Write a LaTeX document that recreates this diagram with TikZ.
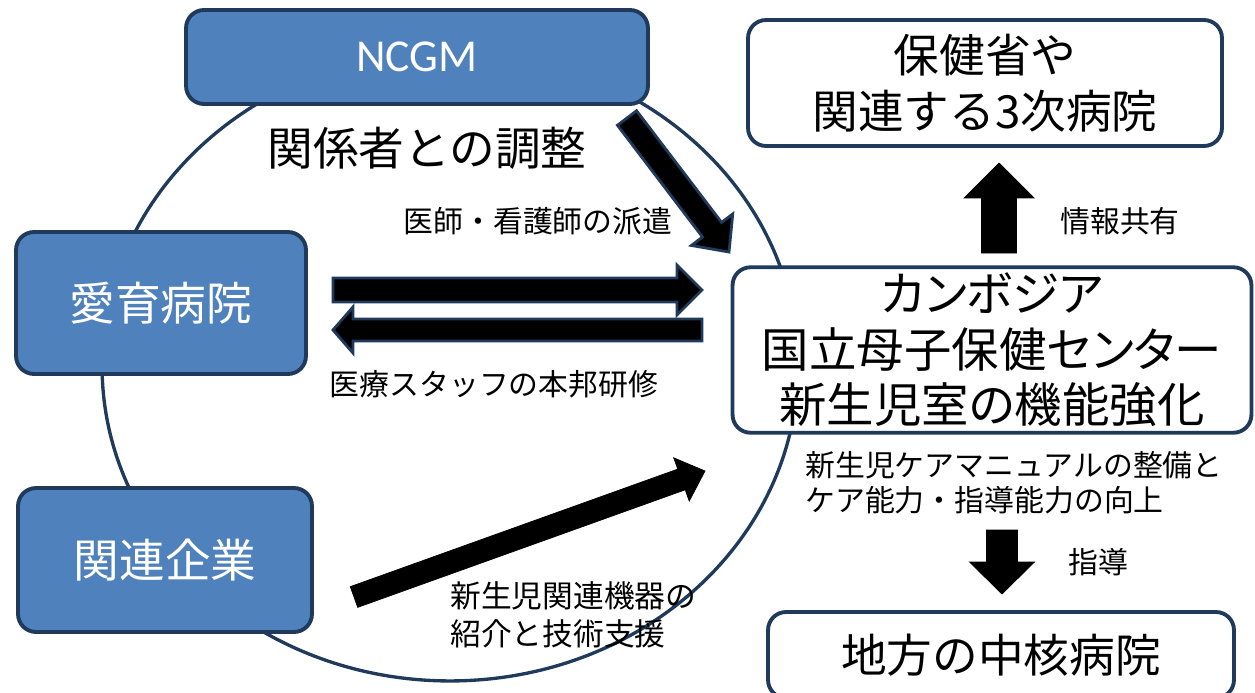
\documentclass[tikz,border=0pt]{standalone}
\usepackage{fontspec}
\setmainfont{Noto Sans CJK JP}
\newfontfamily\latinfont{Carlito}
\usetikzlibrary{calc}
\definecolor{boxblue}{HTML}{4F81BD}
\definecolor{boxline}{HTML}{1F3A5A}
\newcommand{\bigjp}{\fontsize{26}{31.5}\selectfont}
\newcommand{\smalljp}{\fontsize{17}{20}\selectfont}
% block arrow: style, tail, tip, shaft half width, head half width, head length
\newcommand{\blockarrow}[6]{%
  \coordinate (hb) at ($(#3)!#6!(#2)$);
  \draw[#1] ($(#2)!#4!90:(#3)$) -- ($(hb)!#4!90:(#3)$) -- ($(hb)!#5!90:(#3)$) -- (#3)
    -- ($(hb)!#5!-90:(#3)$) -- ($(hb)!#4!-90:(#3)$) -- ($(#2)!#4!-90:(#3)$) -- cycle;}

\begin{document}
\begin{tikzpicture}[
    x=0.02cm, y=-0.02cm,
    bluebox/.style={draw=boxline, line width=2.2pt, fill=boxblue, rounded corners=0.36cm, text=white, font=\bigjp},
    whitebox/.style={draw=boxline, line width=2.2pt, fill=white, rounded corners=0.36cm, align=center, font=\bigjp},
    bigtext/.style={inner sep=0pt, font=\bigjp},
    note/.style={inner sep=0pt, font=\smalljp},
    ring/.style={draw=boxline, line width=1.9pt},
    outlined/.style={fill=black, draw=boxline, line width=1.6pt},
    solid arrow/.style={fill=black}
]
    \useasboundingbox (0,0) rectangle (1255,693);

    % Cycle around the partners
    \draw[ring] (450,366) ellipse [x radius=6.96cm, y radius=6.3cm];

    % Partners in Japan
    \node[bluebox, minimum width=9.24cm, minimum height=1.88cm, font=\latinfont\fontsize{26}{31}\selectfont] (ncgm) at (417,57) {NCGM};
    \node[bluebox, minimum width=5.8cm, minimum height=2.84cm] (aiiku) at (161,303) {愛育病院};
    \node[bluebox, minimum width=5.88cm, minimum height=2.88cm] (kigyo) at (165,560) {関連企業};

    % Cambodia side
    \node[whitebox, minimum width=9.48cm, minimum height=2.52cm] (moh) at (985,83) {保健省や\\関連する3次病院};
    \node[whitebox, minimum width=10.38cm, minimum height=3.28cm, font=\fontsize{27}{31.5}\selectfont\addfontfeatures{RawFeature=+palt}] (nmch) at (992,350) {カンボジア\\国立母子保健センター\\新生児室の機能強化};
    \node[whitebox, minimum width=9.32cm, minimum height=1.72cm] (chiho) at (1001,655) {地方の中核病院};

    % Labels
    \node[bigtext] (adjust) at (427,148) {関係者との調整};
    \node[note] (haken) at (538,221) {医師・看護師の派遣};
    \node[note] (kenshu) at (494,384) {医療スタッフの本邦研修};
    \node[note] (joho) at (1120,221) {情報共有};
    \node[note, anchor=west, align=left] (manual) at (805,483) {新生児ケアマニュアルの整備と\\ケア能力・指導能力の向上};
    \node[note] (shido) at (1098,562) {指導};
    \node[note, anchor=west, align=left, font=\fontsize{17.5}{21.5}\selectfont] (kiki) at (450,615) {新生児関連機器の\\紹介と技術支援};

    % Arrow ends
    \coordinate (ncgmT) at (627,118);
    \coordinate (ncgmH) at (729,252);
    \coordinate (goT) at (333,290);
    \coordinate (goH) at (702,290);
    \coordinate (backT) at (702,330);
    \coordinate (backH) at (333,330);
    \coordinate (kigyoT) at (354,597);
    \coordinate (kigyoH) at (705,471);
    \coordinate (upT) at (999,253);
    \coordinate (upH) at (999,163);
    \coordinate (downT) at (1002,530);
    \coordinate (downH) at (1002,594);

    % Block arrows
    \blockarrow{outlined}{ncgmT}{ncgmH}{0.24cm}{0.52cm}{0.56cm}
    \blockarrow{outlined}{goT}{goH}{0.24cm}{0.5cm}{0.5cm}
    \blockarrow{outlined}{backT}{backH}{0.22cm}{0.46cm}{0.4cm}
    \blockarrow{solid arrow}{kigyoT}{kigyoH}{0.22cm}{0.46cm}{0.5cm}
    \blockarrow{solid arrow}{upT}{upH}{0.35cm}{0.7cm}{0.7cm}
    \blockarrow{solid arrow}{downT}{downH}{0.31cm}{0.65cm}{0.64cm}

\end{tikzpicture}
\end{document}
